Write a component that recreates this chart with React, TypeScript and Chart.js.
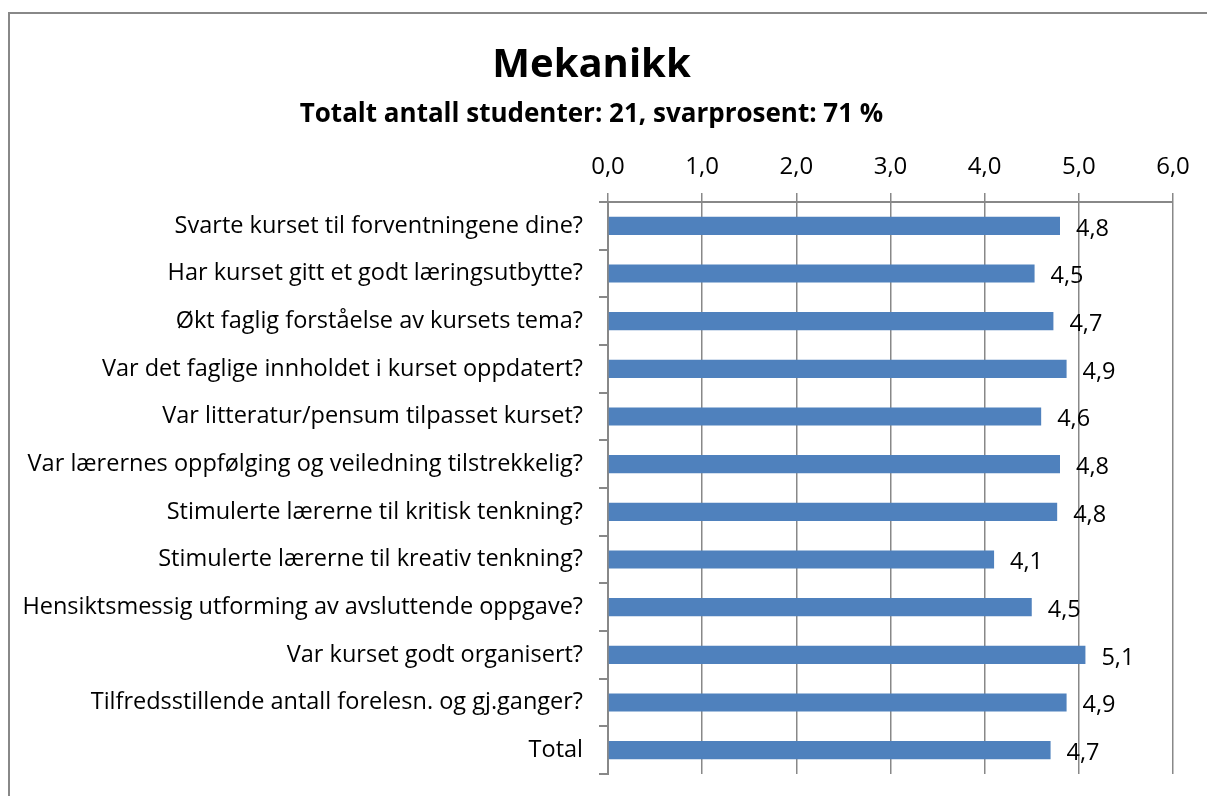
import React, { useEffect, useRef } from "react";
import { Chart, registerables } from "chart.js";

Chart.register(...registerables);

const titleText = "Mekanikk";
const subtitleText = "Totalt antall studenter: 21, svarprosent: 71 %";

const categories = [
  "Svarte kurset til forventningene dine?",
  "Har kurset gitt et godt læringsutbytte?",
  "Økt faglig forståelse av kursets tema?",
  "Var det faglige innholdet i kurset oppdatert?",
  "Var litteratur/pensum tilpasset kurset?",
  "Var lærernes oppfølging og veiledning tilstrekkelig?",
  "Stimulerte lærerne til kritisk tenkning?",
  "Stimulerte lærerne til kreativ tenkning?",
  "Hensiktsmessig utforming av avsluttende oppgave?",
  "Var kurset godt organisert?",
  "Tilfredsstillende antall forelesn. og gj.ganger?",
  "Total",
];

const values = [4.8, 4.53, 4.73, 4.87, 4.6, 4.8, 4.77, 4.1, 4.5, 5.07, 4.87, 4.7];

const axisMin = 0;
const axisMax = 6;
const axisStep = 1;

const fmt = (v: number, d: number) => v.toFixed(d).replace(".", ",");

const FONT = "'Open Sans', 'Noto Sans', sans-serif";
const GRID = "#888888";

export default function App() {
  const ref = useRef<HTMLCanvasElement | null>(null);

  useEffect(() => {
    const canvas = ref.current;
    if (!canvas) return;

    const frame = {
      id: "frame",
      beforeDraw(chart: any) {
        const ctx = chart.ctx;
        ctx.save();
        ctx.fillStyle = "#ffffff";
        ctx.fillRect(0, 0, chart.width, chart.height);
        ctx.strokeStyle = GRID;
        ctx.lineWidth = 2;
        ctx.beginPath();
        ctx.moveTo(9, chart.height);
        ctx.lineTo(9, 13);
        ctx.lineTo(chart.width, 13);
        ctx.stroke();
        ctx.restore();
      },
    };

    const valueLabels = {
      id: "valueLabels",
      afterDatasetsDraw(chart: any) {
        const ctx = chart.ctx;
        const meta = chart.getDatasetMeta(0);
        ctx.save();
        ctx.font = `23.5px ${FONT}`;
        ctx.fillStyle = "#000000";
        ctx.textAlign = "left";
        ctx.textBaseline = "middle";
        meta.data.forEach((bar: any, i: number) => {
          const v = chart.data.datasets[0].data[i] as number;
          ctx.fillText(fmt(v, 1), bar.x + 16, bar.y + 3);
        });
        ctx.restore();
      },
    };

    const chart = new Chart(canvas, {
      type: "bar",
      data: {
        labels: categories,
        datasets: [
          {
            data: values,
            backgroundColor: "#4F81BD",
            borderWidth: 0,
            categoryPercentage: 1,
            barPercentage: 0.38,
          },
        ],
      },
      options: {
        indexAxis: "y",
        responsive: false,
        animation: false,
        devicePixelRatio: 1,
        layout: { padding: { left: 10, right: 34, top: 0, bottom: 22 } },
        plugins: {
          legend: { display: false },
          tooltip: { enabled: false },
          title: {
            display: true,
            text: titleText,
            color: "#000000",
            font: { family: FONT, size: 40, weight: "bold", lineHeight: 1.2 },
            padding: { top: 42, bottom: 0 },
          },
          subtitle: {
            display: true,
            text: subtitleText,
            color: "#000000",
            font: { family: FONT, size: 26, weight: "bold", lineHeight: 1.2 },
            padding: { top: 8.8, bottom: 0 },
          },
        },
        scales: {
          x: {
            position: "top",
            min: axisMin,
            max: axisMax,
            ticks: {
              stepSize: axisStep,
              color: "#000000",
              font: { family: FONT, size: 24 },
              padding: 11,
              callback: (v: any) => fmt(Number(v), 1),
            },
            grid: {
              color: GRID,
              lineWidth: 1.5,
              tickLength: 9,
              drawTicks: true,
            },
            border: { display: true, color: GRID, width: 2 },
            afterFit: (scale: any) => {
              scale.height = 72;
            },
          },
          y: {
            ticks: {
              color: "#000000",
              font: { family: FONT, size: 23.5 },
              padding: 16,
            },
            grid: {
              drawOnChartArea: false,
              drawTicks: true,
              tickLength: 9,
              color: GRID,
              lineWidth: 2,
              offset: true,
            },
            border: { display: true, color: GRID, width: 2 },
            afterFit: (scale: any) => {
              scale.width = 598;
              scale.paddingTop = 0;
              scale.paddingBottom = 0;
            },
          },
        },
      },
      plugins: [frame, valueLabels],
    });

    return () => chart.destroy();
  }, []);

  return (
    <div style={{ position: "fixed", left: 0, top: 0, width: 1207, height: 796, overflow: "hidden", background: "#fff" }}>
      <canvas ref={ref} width={1207} height={796} style={{ display: "block", width: 1207, height: 796 }} />
    </div>
  );
}
